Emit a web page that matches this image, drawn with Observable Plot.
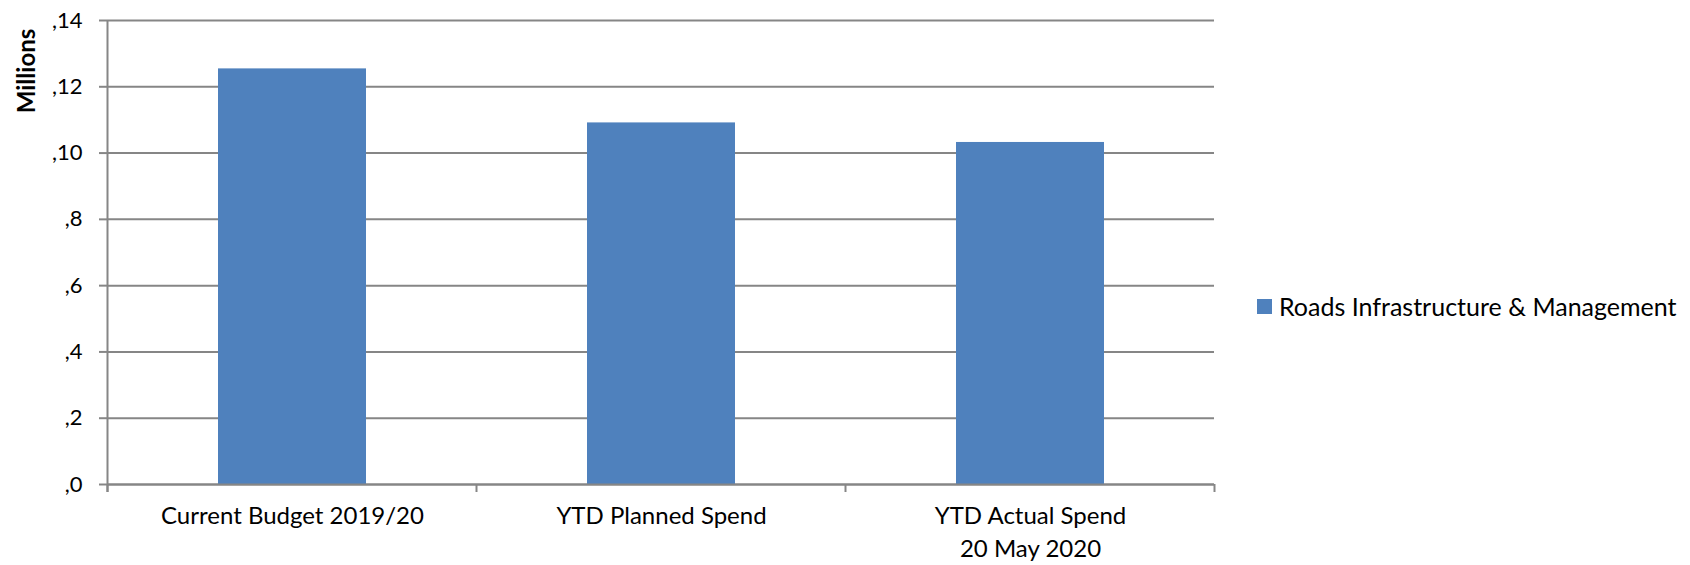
<!DOCTYPE html>
<html>
<head>
<meta charset="utf-8">
<script src="https://cdn.jsdelivr.net/npm/d3@7"></script>
<script src="https://cdn.jsdelivr.net/npm/@observablehq/plot@0.6"></script>
<style>
  html, body { margin: 0; padding: 0; background: #fff; }
  #wrap { position: relative; width: 1690px; height: 565px; font-family: Lato, "Open Sans", sans-serif; }
  #legend { position: absolute; left: 1257px; top: 291px; display: flex; align-items: center; font-size: 25px; color: #000; white-space: nowrap; }
  #legend .sw { width: 15px; height: 15px; background: #4F81BD; margin-right: 7px; }
</style>
</head>
<body>
<div id="wrap"></div>
<script>
const categories = ["Current Budget 2019/20", "YTD Planned Spend", "YTD Actual Spend\n20 May 2020"];
const values = [0.1254, 0.1091, 0.1032];
const yTicks = [0, 0.02, 0.04, 0.06, 0.08, 0.10, 0.12, 0.14];
const seriesName = "Roads Infrastructure & Management";
const yTitle = "Millions";

const data = categories.map((c, i) => ({cat: c, value: values[i]}));
const gray = "#868686";

const plot = Plot.plot({
  width: 1690,
  height: 565,
  marginLeft: 107,
  marginRight: 476,
  marginTop: 20,
  marginBottom: 81,
  style: {fontFamily: "Lato, 'Open Sans', sans-serif", fontSize: "20px", color: "#000", background: "#fff", overflow: "visible"},
  x: {domain: categories, paddingInner: 0.6, paddingOuter: 0.3, label: null},
  y: {domain: [0, 0.14], label: null},
  marks: [
    Plot.gridY(yTicks, {stroke: gray, strokeOpacity: 1, strokeWidth: 2}),
    Plot.barY(data, {x: "cat", y: "value", fill: "#4F81BD"}),
    Plot.ruleY([0], {stroke: gray, strokeWidth: 2}),
    Plot.axisY(yTicks, {tickFormat: d => "," + Math.round(d * 100), tickSize: 8, tickPadding: 17, stroke: gray, strokeWidth: 2, strokeOpacity: 1, fontSize: 22, label: null}),
    Plot.axisX({tickSize: 0, tickPadding: 16, fontSize: 24, lineHeight: 1.38, label: null})
  ]
});

document.getElementById("wrap").appendChild(plot);

// Category boundary ticks and the vertical value axis, placed via the plot's own scales
const xs = plot.scale("x");
const ys = plot.scale("y");
const gap = xs.step - xs.bandwidth;
const bounds = categories.map(c => xs.apply(c) - gap / 2);
bounds.push(xs.apply(categories[categories.length - 1]) + xs.bandwidth + gap / 2);
const svg = d3.select(plot);
const y0 = ys.apply(0);
const yTop = ys.apply(0.14);
const g = svg.append("g").attr("stroke", gray).attr("stroke-width", 2);
g.selectAll("line.b").data(bounds).join("line")
  .attr("x1", d => d).attr("x2", d => d)
  .attr("y1", y0).attr("y2", y0 + 8);
g.append("line").attr("x1", bounds[0]).attr("x2", bounds[0]).attr("y1", yTop).attr("y2", y0 + 8);

svg.append("text")
  .attr("transform", `translate(25,${yTop + 51}) rotate(-90)`)
  .attr("text-anchor", "middle")
  .attr("dominant-baseline", "central")
  .attr("font-weight", "bold")
  .attr("font-size", 24)
  .attr("fill", "#000")
  .text(yTitle);

const legend = document.createElement("div");
legend.id = "legend";
legend.innerHTML = `<div class="sw"></div><span></span>`;
legend.querySelector("span").textContent = seriesName;
document.getElementById("wrap").appendChild(legend);
</script>
</body>
</html>
